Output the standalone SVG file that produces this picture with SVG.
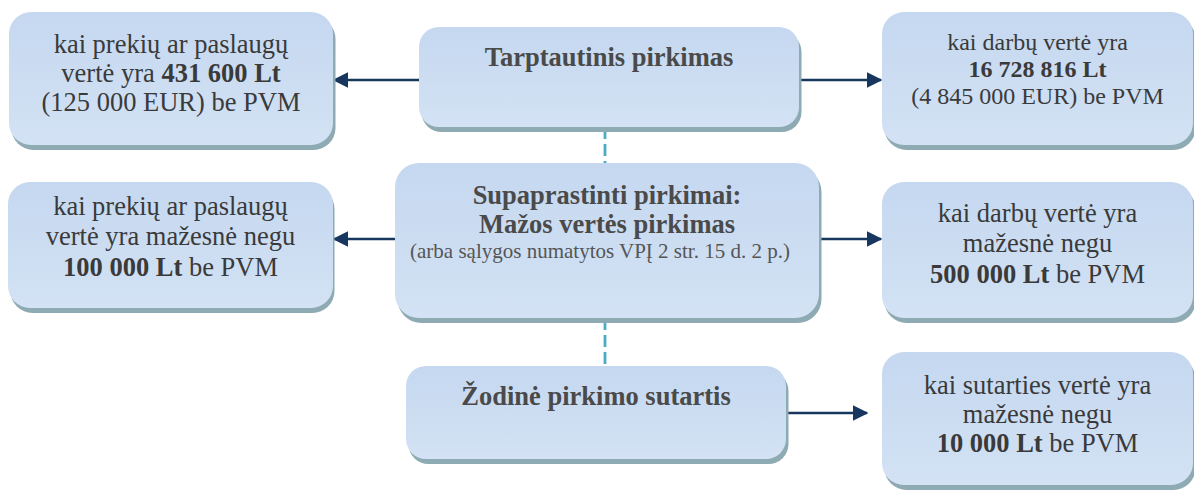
<svg xmlns="http://www.w3.org/2000/svg" width="1194" height="490" viewBox="0 0 1194 490">
<defs>
<linearGradient id="fillG" x1="0" y1="0" x2="0" y2="1">
<stop offset="0" stop-color="#c5d8f0"/>
<stop offset="1" stop-color="#d3e2f4"/>
</linearGradient>
<marker id="arr" markerWidth="6" markerHeight="6" refX="5.5" refY="3" orient="auto" markerUnits="strokeWidth">
<path d="M0,0 L6,3 L0,6 z" fill="#17375e"/>
</marker>
<style>
.sh{fill:#8eaab3}
.bx{fill:url(#fillG)}
.t{font-family:"Liberation Serif","Times New Roman",serif;font-size:26.5px;fill:#3a3a3a;text-anchor:middle}
.ts{font-family:"Liberation Serif","Times New Roman",serif;font-size:24px;fill:#3a3a3a;text-anchor:middle}
.h{font-family:"Liberation Serif","Times New Roman",serif;font-size:26.5px;font-weight:bold;fill:#4a4a4a;text-anchor:middle}
.sub{font-family:"Liberation Serif","Times New Roman",serif;font-size:21px;fill:#555555;text-anchor:middle}
.b{font-weight:bold}
.arrow{stroke:#17375e;stroke-width:2.6;fill:none;marker-end:url(#arr)}
.dash{stroke:#4bacc6;stroke-width:2.8;stroke-dasharray:12 5;fill:none}
</style>
</defs>
<rect width="1194" height="490" fill="#ffffff"/>
<g id="connectors">
<line class="dash" x1="605" y1="127" x2="605" y2="163"/>
<line class="dash" x1="605" y1="318" x2="605" y2="366"/>
<line class="arrow" x1="420" y1="80" x2="334" y2="80"/>
<line class="arrow" x1="799" y1="80" x2="881" y2="80"/>
<line class="arrow" x1="395" y1="239" x2="334" y2="239"/>
<line class="arrow" x1="819" y1="239" x2="881" y2="239"/>
<line class="arrow" x1="786" y1="413" x2="867" y2="413"/>
</g>
<g id="node-tarptautinis">
<rect class="sh" x="421.5" y="32" width="380" height="100" rx="20"/>
<rect class="bx" x="419" y="27" width="380" height="100" rx="20"/>
<text class="h" x="609" y="66">Tarptautinis pirkimas</text>
</g>
<g id="node-supaprastinti">
<rect class="sh" x="397.5" y="168" width="424" height="155" rx="24"/>
<rect class="bx" x="395" y="163" width="424" height="155" rx="24"/>
<text class="h" x="607" y="204">Supaprastinti pirkimai:</text>
<text class="h" x="607" y="233">Mažos vertės pirkimas</text>
<text class="sub" x="600" y="258">(arba sąlygos numatytos VPĮ 2 str. 15 d. 2 p.)</text>
</g>
<g id="node-zodine">
<rect class="sh" x="408.5" y="371" width="380" height="93" rx="20"/>
<rect class="bx" x="406" y="366" width="380" height="93" rx="20"/>
<text class="h" x="596" y="405">Žodinė pirkimo sutartis</text>
</g>
<g id="node-tl">
<rect class="sh" x="11.5" y="17" width="324" height="133" rx="22"/>
<rect class="bx" x="9" y="12" width="324" height="133" rx="22"/>
<text class="t" x="171" y="53">kai prekių ar paslaugų</text>
<text class="t" x="171" y="82">vertė yra <tspan class="b">431 600 Lt</tspan></text>
<text class="t" x="171" y="111">(125 000 EUR) be PVM</text>
</g>
<g id="node-tr">
<rect class="sh" x="884.5" y="17" width="311" height="133" rx="22"/>
<rect class="bx" x="882" y="12" width="311" height="133" rx="22"/>
<text class="ts" x="1037.5" y="50">kai darbų vertė yra</text>
<text class="ts b" x="1037.5" y="77">16 728 816 Lt</text>
<text class="ts" x="1037.5" y="104">(4 845 000 EUR) be PVM</text>
</g>
<g id="node-ml">
<rect class="sh" x="10.5" y="187" width="324" height="126" rx="22"/>
<rect class="bx" x="8" y="182" width="325" height="126" rx="22"/>
<text class="t" x="170.5" y="215">kai prekių ar paslaugų</text>
<text class="t" x="170.5" y="245">vertė yra mažesnė negu</text>
<text class="t" x="170.5" y="276"><tspan class="b">100 000 Lt</tspan> be PVM</text>
</g>
<g id="node-mr">
<rect class="sh" x="884.5" y="187" width="311" height="136" rx="22"/>
<rect class="bx" x="882" y="182" width="311" height="136" rx="22"/>
<text class="t" x="1037.5" y="222">kai darbų vertė yra</text>
<text class="t" x="1037.5" y="252">mažesnė negu</text>
<text class="t" x="1037.5" y="283"><tspan class="b">500 000 Lt</tspan> be PVM</text>
</g>
<g id="node-br">
<rect class="sh" x="884.5" y="357" width="311" height="133" rx="22"/>
<rect class="bx" x="882" y="352" width="311" height="133" rx="22"/>
<text class="t" x="1037.5" y="394">kai sutarties vertė yra</text>
<text class="t" x="1037.5" y="423">mažesnė negu</text>
<text class="t" x="1037.5" y="452"><tspan class="b">10 000 Lt</tspan> be PVM</text>
</g>
</svg>
